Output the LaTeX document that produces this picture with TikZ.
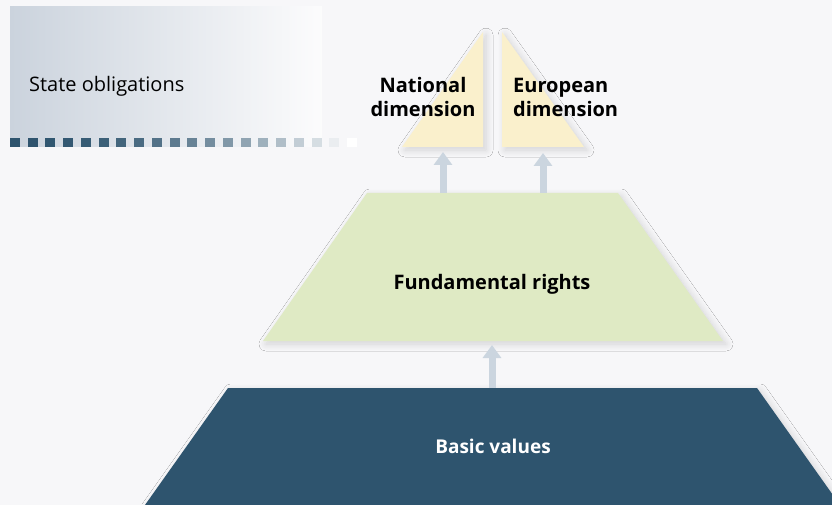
\documentclass[tikz,border=0pt]{standalone}
\usepackage{fontspec}
\setmainfont{Open Sans}
\usetikzlibrary{arrows.meta,shadows.blur}
\definecolor{bgcol}{HTML}{F7F7F9}
\definecolor{basecol}{HTML}{2E546E}
\definecolor{rightscol}{HTML}{DFEAC4}
\definecolor{dimcol}{HTML}{FAF0CC}
\definecolor{arrcol}{HTML}{CBD5DF}
\definecolor{oblcol}{HTML}{CBD3DD}
\tikzset{
  softshadow/.style={blur shadow={shadow xshift=3pt,shadow yshift=-3pt,shadow blur steps=12,shadow opacity=15,shadow blur radius=7pt}},
  lbl/.style={font=\fontsize{20}{24}\selectfont\bfseries, inner sep=0pt},
  uparrow/.style={draw=arrcol, line width=7pt, -{Triangle[length=13pt,width=18pt]}},
}
\begin{document}
\begin{tikzpicture}[x=1pt,y=-1pt]
  \useasboundingbox (0,0) rectangle (832,505);
  \clip (0,0) rectangle (832,505);
  \fill[bgcol] (0,0) rectangle (832,505);
  % state obligations band
  \shade[left color=oblcol,right color=bgcol!40!white] (10,7) rectangle (322,147);
  \foreach \i in {0,...,19}{
    \pgfmathsetmacro{\p}{100*(1-(\i/19)^2)}
    \fill[basecol!\p!white] (10+\i*17.74,138) rectangle ++(10,9);
  }
  \node[anchor=base west, inner sep=0pt, font=\fontsize{20}{24}\selectfont] (obl) at (29,92) {State obligations};
  % pyramid
  \fill[basecol, softshadow] (228,388) -- (757,388) -- (840,505) -- (145,505) -- cycle;
  \fill[rightscol, softshadow] (367,193) -- (618,193) -- (723,341) -- (263,341) -- cycle;
  \fill[dimcol, softshadow] (483,32) -- (483,147) -- (402,147) -- cycle;
  \fill[dimcol, softshadow] (502,32) -- (584,147) -- (502,147) -- cycle;
  \node[lbl, align=center] (nat) at (423,97) {National\\dimension};
  \node[lbl, align=left, anchor=west] (eur) at (513,97) {European\\dimension};
  \node[lbl, anchor=base] (fund) at (492,289) {Fundamental rights};
  \node[lbl, anchor=base, text=white, font=\fontsize{19}{24}\selectfont\bfseries] (basic) at (493,453) {Basic values};
  % arrows
  \coordinate (natfoot) at (443,152);
  \coordinate (eurfoot) at (543,153);
  \coordinate (fundfoot) at (492,345);
  \coordinate (natsrc) at (443,193);
  \coordinate (eursrc) at (543,193);
  \coordinate (basicsrc) at (492,388);
  \draw[uparrow] (natsrc) -- (natfoot);
  \draw[uparrow] (eursrc) -- (eurfoot);
  \draw[uparrow] (basicsrc) -- (fundfoot);
\end{tikzpicture}
\end{document}
